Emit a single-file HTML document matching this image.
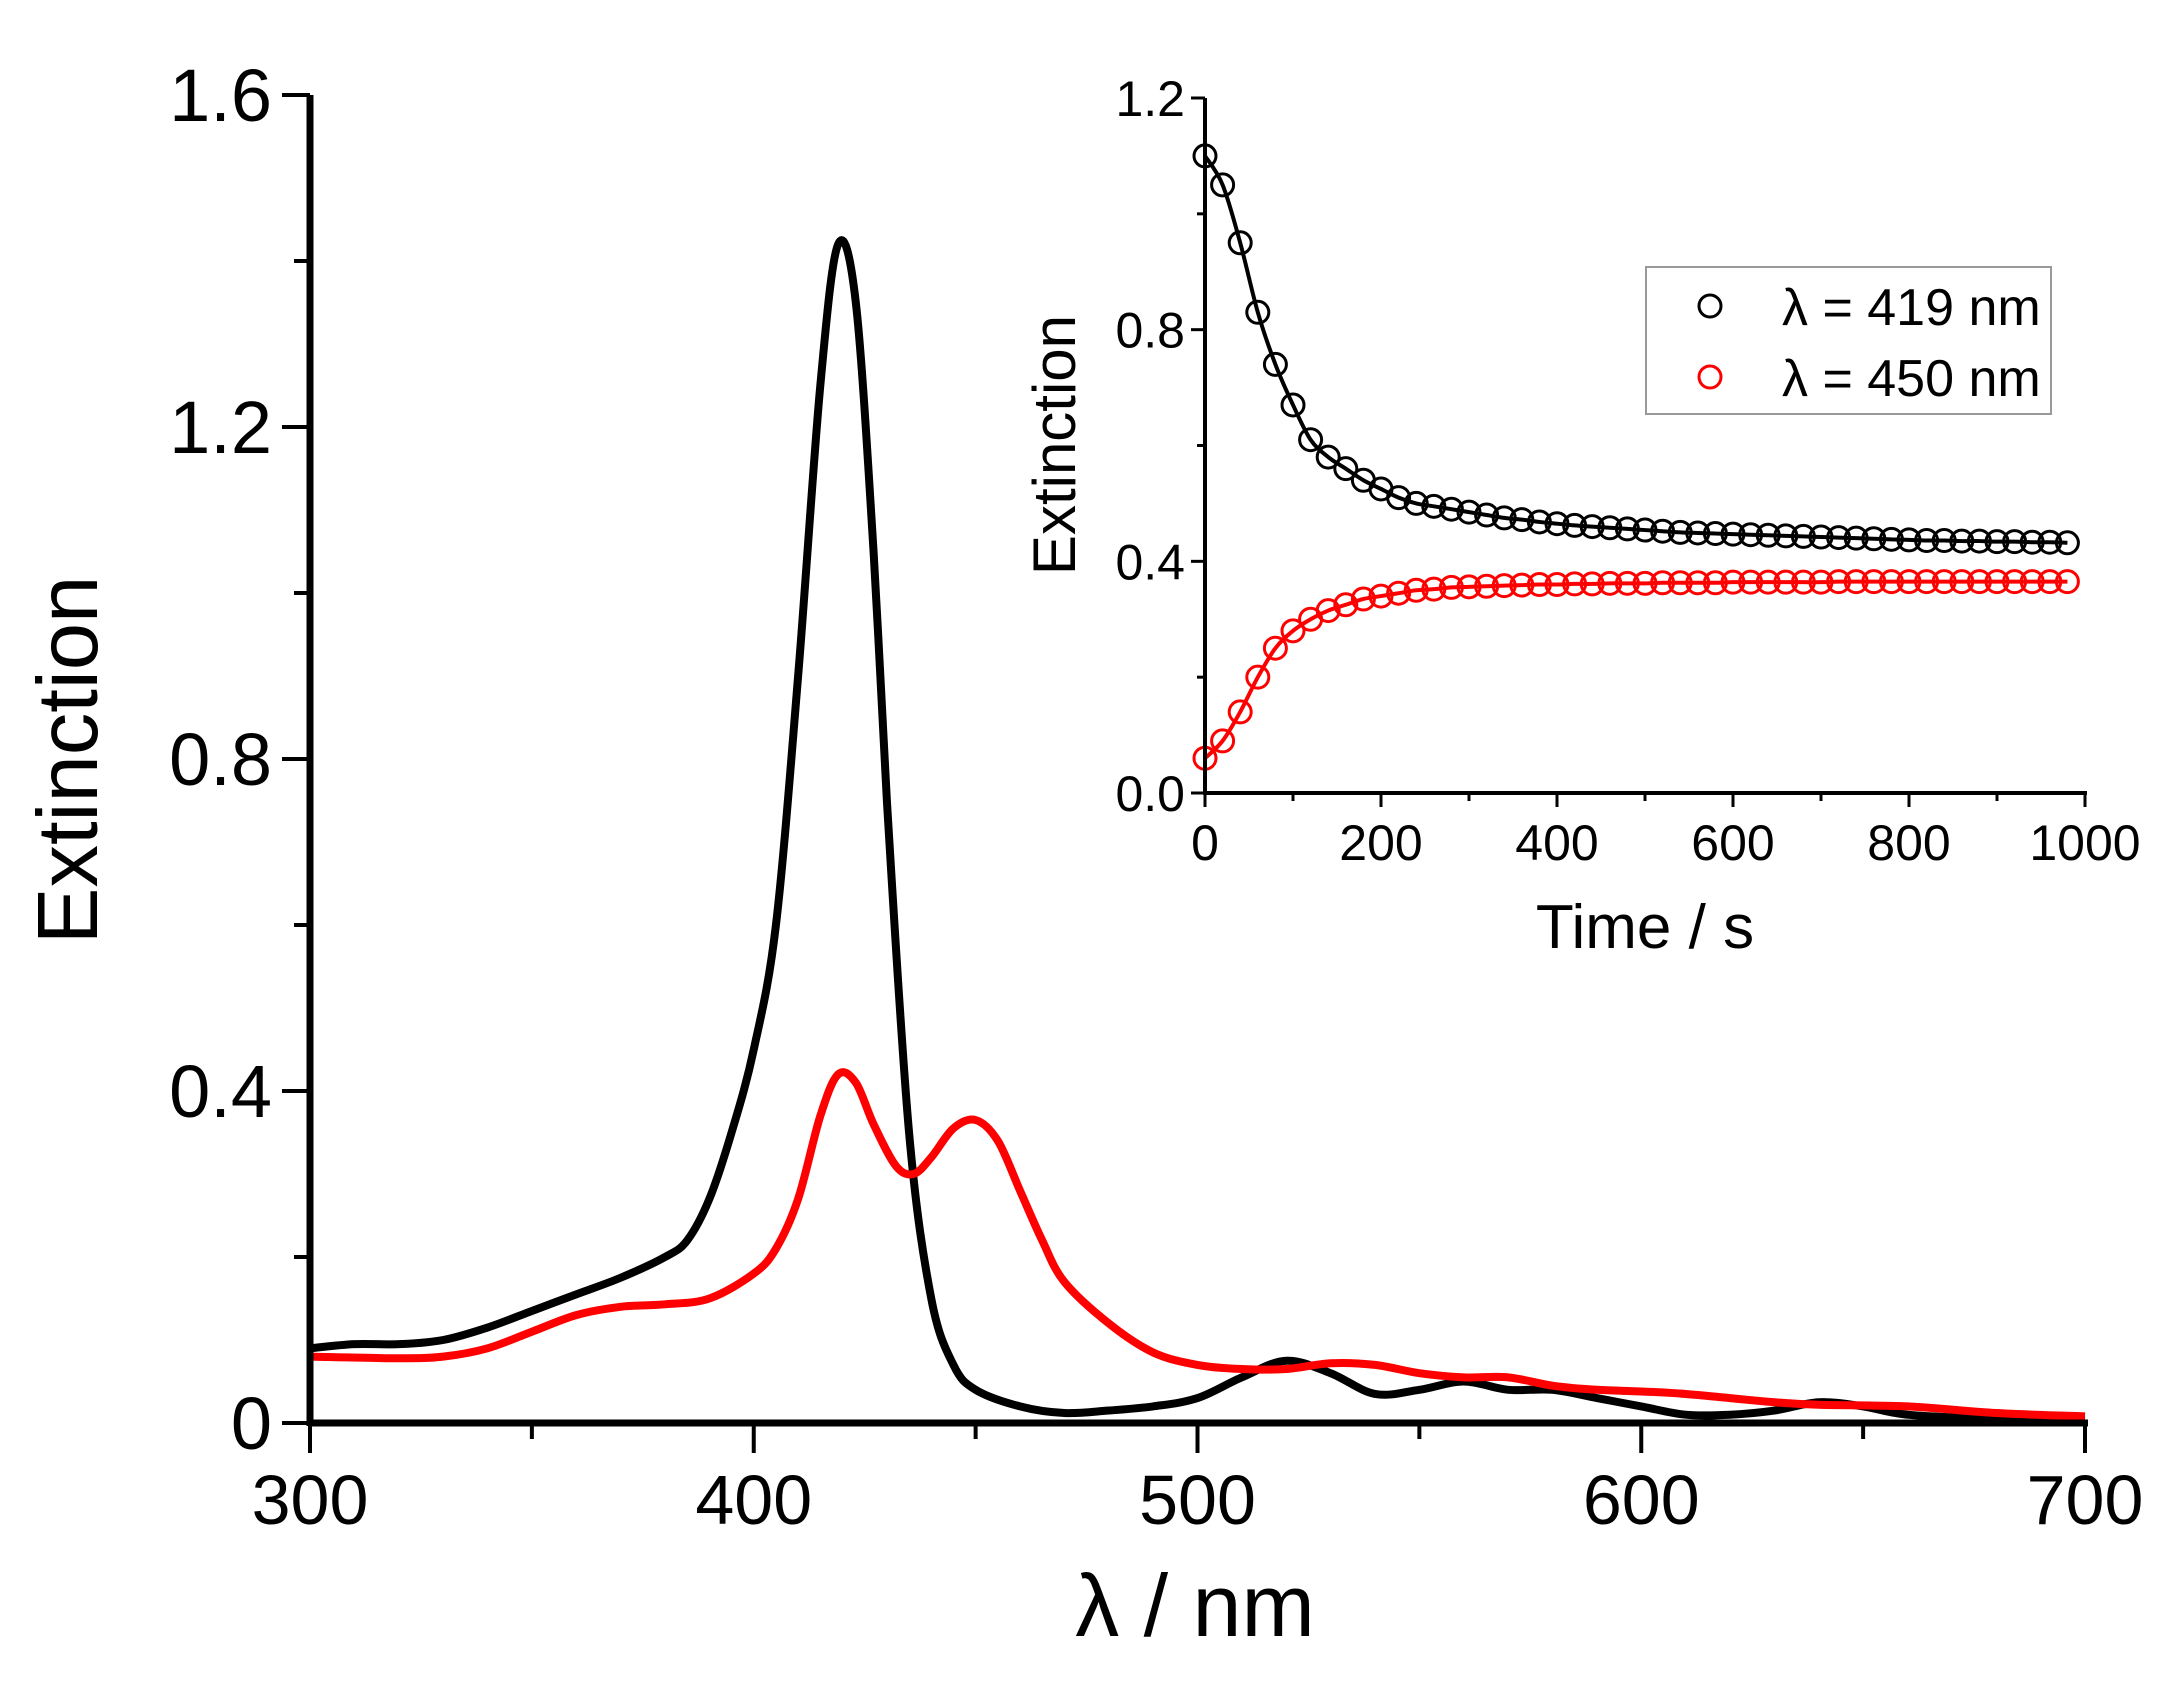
<!DOCTYPE html>
<html><head><meta charset="utf-8"><style>
html,body{margin:0;padding:0;background:#fff;}
svg{display:block;font-family:"Liberation Sans","DejaVu Sans",sans-serif;}
</style></head><body>
<svg id="chart" width="2181" height="1697" viewBox="0 0 2181 1697">
<g id="main"></g>
<g id="inset"></g>
</svg>
<script>
// Main spectrum data
const wlBlack = [300,310,320,330,340,350,360,370,380,385,390,395,400,405,410,415,419,423,427,430,435,440,445,450,460,470,480,490,500,510,520,530,540,550,560,570,580,590,600,610,620,630,640,650,660,680,700];
const extBlack = [0.09,0.095,0.095,0.1,0.115,0.135,0.155,0.175,0.2,0.22,0.27,0.35,0.45,0.6,0.9,1.25,1.42,1.35,1.05,0.75,0.35,0.15,0.07,0.04,0.02,0.012,0.015,0.02,0.03,0.055,0.075,0.06,0.035,0.04,0.05,0.04,0.04,0.03,0.02,0.01,0.01,0.015,0.025,0.02,0.01,0.005,0.003];
const wlRed = [300,320,330,340,350,360,370,380,390,400,405,410,415,419,423,427,432,436,440,445,450,455,460,465,470,480,490,500,510,520,530,540,550,560,570,580,590,600,610,620,630,640,660,680,700];
const extRed = [0.08,0.078,0.08,0.09,0.11,0.13,0.14,0.143,0.15,0.18,0.21,0.27,0.37,0.42,0.41,0.36,0.31,0.30,0.32,0.355,0.365,0.34,0.28,0.22,0.17,0.12,0.085,0.07,0.065,0.065,0.072,0.07,0.06,0.055,0.055,0.045,0.04,0.038,0.035,0.03,0.025,0.022,0.02,0.012,0.008];
const mainXTicks = [300,400,500,600,700];
const mainYTicks = [0,0.4,0.8,1.2,1.6];
const mainYLabels = ["0","0.4","0.8","1.2","1.6"];
// Inset kinetics data
const tPts = [0,20,40,60,80,100,120,140,160,180,200,220,240,260,280,300,320,340,360,380,400,420,440,460,480,500,520,540,560,580,600,620,640,660,680,700,720,740,760,780,800,820,840,860,880,900,920,940,960,980];
const e419 = [1.1,1.05,0.95,0.83,0.74,0.67,0.61,0.58,0.56,0.54,0.525,0.51,0.5,0.495,0.49,0.485,0.48,0.475,0.472,0.468,0.465,0.462,0.46,0.458,0.456,0.454,0.452,0.45,0.449,0.448,0.447,0.446,0.445,0.444,0.443,0.442,0.441,0.44,0.439,0.438,0.437,0.436,0.436,0.435,0.435,0.434,0.434,0.433,0.433,0.432];
const e450 = [0.06,0.09,0.14,0.2,0.25,0.28,0.3,0.315,0.325,0.335,0.34,0.345,0.35,0.352,0.355,0.356,0.357,0.358,0.359,0.36,0.36,0.361,0.361,0.362,0.362,0.362,0.363,0.363,0.363,0.363,0.364,0.364,0.364,0.364,0.364,0.364,0.365,0.365,0.365,0.365,0.365,0.365,0.365,0.365,0.365,0.365,0.365,0.365,0.365,0.365];
const insetXTicks = [0,200,400,600,800,1000];
const insetYTicks = [0,0.4,0.8,1.2];
const insetYLabels = ["0.0","0.4","0.8","1.2"];

const NS="http://www.w3.org/2000/svg";
function mk(parent,tag,attrs,text){const e=document.createElementNS(NS,tag);for(const k in attrs)e.setAttribute(k,attrs[k]);if(text!==undefined)e.textContent=text;parent.appendChild(e);return e;}
function smooth(pts){let d=`M${pts[0][0]},${pts[0][1]}`;for(let i=0;i<pts.length-1;i++){const p0=pts[i-1]||pts[i],p1=pts[i],p2=pts[i+1],p3=pts[i+2]||p2;d+=` C${p1[0]+(p2[0]-p0[0])/6},${p1[1]+(p2[1]-p0[1])/6} ${p2[0]-(p3[0]-p1[0])/6},${p2[1]-(p3[1]-p1[1])/6} ${p2[0]},${p2[1]}`;}return d;}

// Main axes
const M={x0:310,x1:2085,y0:1423,y1:95};
const mx=v=>M.x0+(v-300)/400*(M.x1-M.x0);
const my=v=>M.y0-v/1.6*(M.y0-M.y1);
const g=document.getElementById('main');
let e;
e=mk(g,'path',{d:smooth(wlBlack.map((w,i)=>[mx(w),my(extBlack[i])])),fill:'none',stroke:'#000','stroke-width':8,'stroke-linejoin':'round'});


e=mk(g,'path',{d:smooth(wlRed.map((w,i)=>[mx(w),my(extRed[i])])),fill:'none',stroke:'#f00','stroke-width':8,'stroke-linejoin':'round'});


e=mk(g,'line',{x1:M.x0,y1:M.y0,x2:M.x1+3,y2:M.y0,stroke:'#000','stroke-width':7});


e=mk(g,'line',{x1:M.x0,y1:M.y0+3,x2:M.x0,y2:M.y1,stroke:'#000','stroke-width':7});


mainXTicks.forEach(v=>{mk(g,'line',{x1:mx(v),y1:M.y0,x2:mx(v),y2:M.y0+30,stroke:'#000','stroke-width':4});
 e=mk(g,'text',{x:mx(v),y:1524,'font-size':70,'text-anchor':'middle'},String(v));
 
 });
for(let v=350;v<700;v+=100)mk(g,'line',{x1:mx(v),y1:M.y0,x2:mx(v),y2:M.y0+16,stroke:'#000','stroke-width':4});
mainYTicks.forEach((v,i)=>{mk(g,'line',{x1:M.x0,y1:my(v),x2:M.x0-28,y2:my(v),stroke:'#000','stroke-width':4});
 e=mk(g,'text',{x:272,y:my(v)+26,'font-size':74,'text-anchor':'end'},mainYLabels[i]);
 
 });
for(let v=0.2;v<1.6;v+=0.4)mk(g,'line',{x1:M.x0,y1:my(v),x2:M.x0-16,y2:my(v),stroke:'#000','stroke-width':4});
e=mk(g,'text',{x:1195,y:1636,'font-size':88,'text-anchor':'middle'},'λ / nm');


e=mk(g,'text',{x:97,y:760,'font-size':85,'text-anchor':'middle',transform:'rotate(-90 97 760)'},'Extinction');



// Inset axes
const I={x0:1205,x1:2085,y0:793,y1:98};
const ix=v=>I.x0+v/1000*(I.x1-I.x0);
const iy=v=>I.y0-v/1.2*(I.y0-I.y1);
const h=document.getElementById('inset');
e=mk(h,'path',{d:smooth(tPts.map((t,i)=>[ix(t),iy(e419[i])])),fill:'none',stroke:'#000','stroke-width':4});


e=mk(h,'path',{d:smooth(tPts.map((t,i)=>[ix(t),iy(e450[i])])),fill:'none',stroke:'#f00','stroke-width':4});


tPts.forEach((t,i)=>{
 e=mk(h,'circle',{cx:ix(t),cy:iy(e419[i]),r:11,fill:'none',stroke:'#000','stroke-width':3});
 
 
 e=mk(h,'circle',{cx:ix(t),cy:iy(e450[i]),r:11,fill:'none',stroke:'#f00','stroke-width':3});
 
 
});
mk(h,'line',{x1:I.x0,y1:I.y0,x2:I.x1+2,y2:I.y0,stroke:'#000','stroke-width':4});
mk(h,'line',{x1:I.x0,y1:I.y0+2,x2:I.x0,y2:I.y1,stroke:'#000','stroke-width':4});
insetXTicks.forEach(v=>{mk(h,'line',{x1:ix(v),y1:I.y0,x2:ix(v),y2:I.y0+14,stroke:'#000','stroke-width':3});
 e=mk(h,'text',{x:ix(v),y:860,'font-size':50,'text-anchor':'middle'},String(v));
 
 });
for(let v=100;v<1000;v+=200)mk(h,'line',{x1:ix(v),y1:I.y0,x2:ix(v),y2:I.y0+8,stroke:'#000','stroke-width':3});
insetYTicks.forEach((v,i)=>{mk(h,'line',{x1:I.x0,y1:iy(v),x2:I.x0-14,y2:iy(v),stroke:'#000','stroke-width':3});
 e=mk(h,'text',{x:I.x0-20,y:iy(v)+18,'font-size':50,'text-anchor':'end'},insetYLabels[i]);
 
 });
for(let v=0.2;v<1.2;v+=0.4)mk(h,'line',{x1:I.x0,y1:iy(v),x2:I.x0-8,y2:iy(v),stroke:'#000','stroke-width':3});
e=mk(h,'text',{x:1645,y:948,'font-size':62,'text-anchor':'middle'},'Time / s');


e=mk(h,'text',{x:1075,y:445,'font-size':60,'text-anchor':'middle',transform:'rotate(-90 1075 445)'},'Extinction');


// Legend
const lg=mk(h,'g',{});


mk(lg,'rect',{x:1646,y:267,width:405,height:147,fill:'#fff',stroke:'#999','stroke-width':2});
mk(lg,'circle',{cx:1710,cy:306,r:11,fill:'none',stroke:'#000','stroke-width':3});
mk(lg,'circle',{cx:1710,cy:377,r:11,fill:'none',stroke:'#f00','stroke-width':3});
e=mk(lg,'text',{x:1782,y:325,'font-size':52},'λ = 419 nm');


e=mk(lg,'text',{x:1782,y:396,'font-size':52},'λ = 450 nm');


</script>
</body></html>
